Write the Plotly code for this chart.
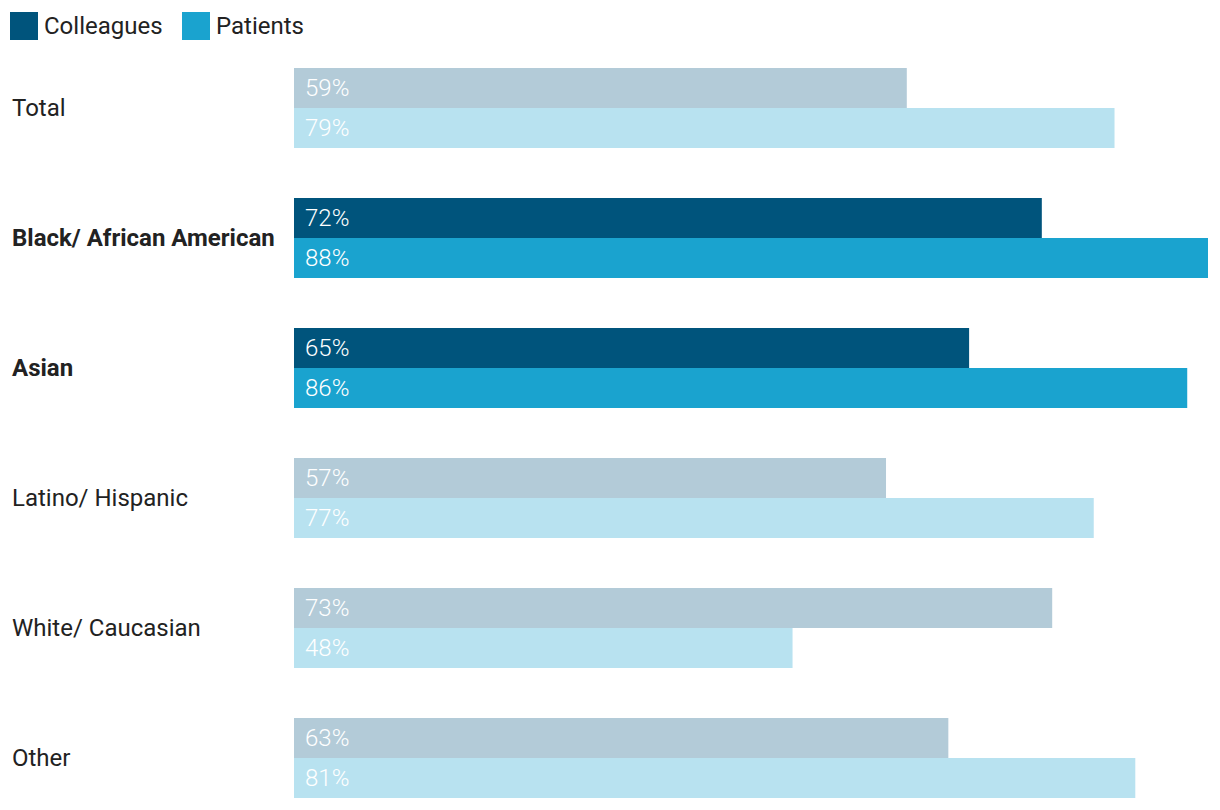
import plotly.graph_objects as go

categories = ["Total", "Black/ African American", "Asian", "Latino/ Hispanic", "White/ Caucasian", "Other"]
colleagues = [59, 72, 65, 57, 73, 63]
patients = [79, 88, 86, 77, 48, 81]
highlight = [False, True, True, False, False, False]

C_DARK = "#00547c"
P_DARK = "#1aa3cf"
C_FADE = "#b3cbd8"
P_FADE = "#b8e2f0"

OFF = 8  # page body margin
W, H = 1220, 810
L, R, T, B = 286, 20, 35, 8
pw, ph = W - L - R, H - T - B

def px_x(x):
    return (x - OFF - L) / pw

def px_y(y):
    return (H - B - (y - OFF)) / ph

fig = go.Figure()
fig.add_trace(go.Bar(
    y=categories, x=colleagues, orientation="h", name="Colleagues",
    marker=dict(color=[C_DARK if h else C_FADE for h in highlight], line=dict(width=0)),
    showlegend=False, hoverinfo="skip"))
fig.add_trace(go.Bar(
    y=categories, x=patients, orientation="h", name="Patients",
    marker=dict(color=[P_DARK if h else P_FADE for h in highlight], line=dict(width=0)),
    showlegend=False, hoverinfo="skip"))

ann = []
font = "Roboto, Arial, sans-serif"
for cat, c, p, h in zip(categories, colleagues, patients, highlight):
    ann.append(dict(x=px_x(10), xref="paper", y=cat, yref="y", xanchor="left", yanchor="middle",
                    text=f"<b>{cat}</b>" if h else cat, showarrow=False,
                    font=dict(family=font, size=24, color="#222222")))
    for v, ys in [(c, 20), (p, -20)]:
        ann.append(dict(x=0, xref="x", y=cat, yref="y", xanchor="left", yanchor="middle",
                        xshift=9, yshift=ys, text=f"{v}%", showarrow=False,
                        font=dict(family=font, size=24, color="#ffffff", weight=300)))

# custom legend
shapes = []
for x0, col, label in [(10, C_DARK, "Colleagues"), (182, P_DARK, "Patients")]:
    shapes.append(dict(type="rect", xref="paper", yref="paper",
                       x0=px_x(x0), x1=px_x(x0 + 28), y0=px_y(40), y1=px_y(12),
                       fillcolor=col, line=dict(width=0)))
    ann.append(dict(x=px_x(x0 + 32), xref="paper", y=px_y(26), yref="paper",
                    xanchor="left", yanchor="middle", text=label, showarrow=False,
                    font=dict(family=font, size=24, color="#222222")))

fig.update_layout(
    width=W, height=H, margin=dict(l=L, r=R, t=T, b=B, pad=0),
    paper_bgcolor="white", plot_bgcolor="white",
    barmode="group", bargap=50/130, bargroupgap=0,
    xaxis=dict(range=[0, 88], visible=False, fixedrange=True),
    yaxis=dict(range=[5.4, -0.5], showticklabels=False, showgrid=False, zeroline=False,
               showline=False, ticks="", fixedrange=True),
    annotations=ann, shapes=shapes, showlegend=False,
)
fig.write_html("out.html")
